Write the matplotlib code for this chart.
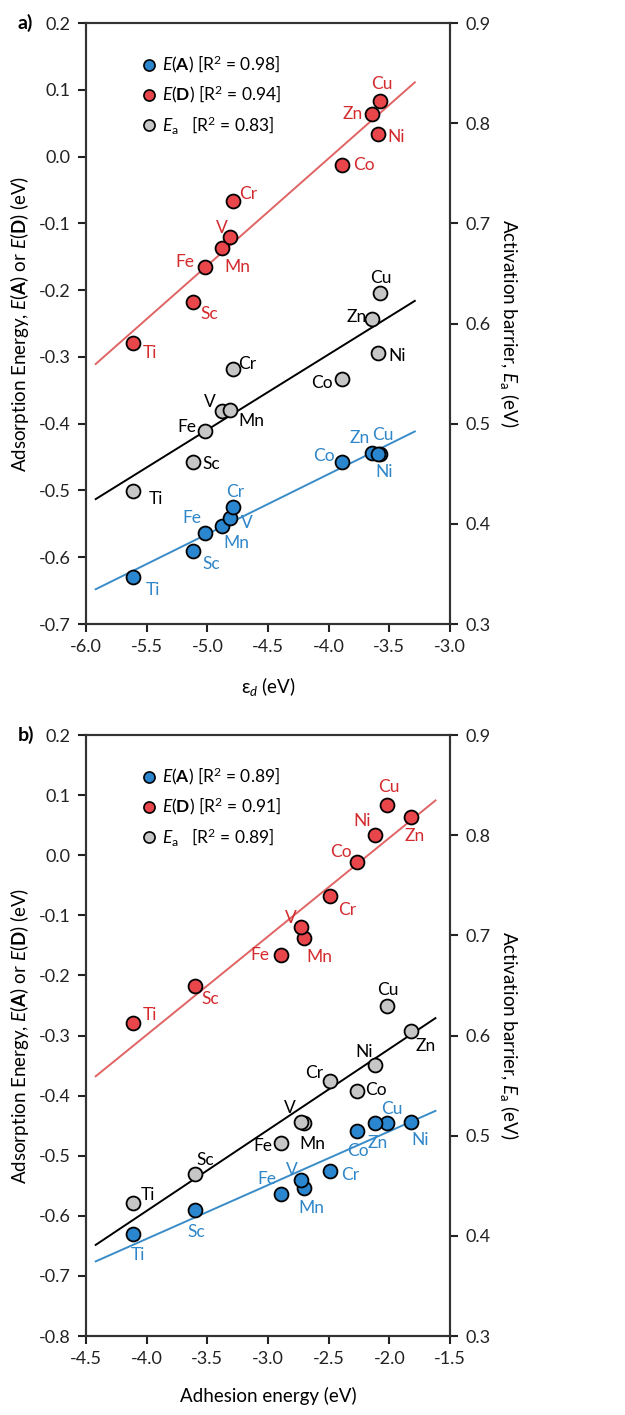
import numpy as np
import matplotlib
matplotlib.use("Agg")
import matplotlib.pyplot as plt
from matplotlib.lines import Line2D

plt.rcParams['font.family'] = ['Lato', 'DejaVu Sans']
plt.rcParams['mathtext.fontset'] = 'custom'
plt.rcParams['mathtext.rm'] = 'Lato'
plt.rcParams['mathtext.it'] = 'Lato:italic'
plt.rcParams['mathtext.bf'] = 'Lato:bold'

# metals (same order in both panels)
metals = ['Ti', 'Sc', 'Fe', 'Mn', 'V', 'Cr', 'Co', 'Zn', 'Cu', 'Ni']
eps_d = [-5.61, -5.12, -5.02, -4.88, -4.81, -4.79, -3.89, -3.64, -3.58, -3.59]
adhesion = [-4.11, -3.60, -2.89, -2.70, -2.73, -2.49, -2.27, -1.82, -2.02, -2.12]
E_A = [-0.630, -0.591, -0.564, -0.553, -0.541, -0.525, -0.458, -0.444, -0.446, -0.445]
E_D = [-0.279, -0.218, -0.166, -0.137, -0.120, -0.067, -0.012, 0.064, 0.084, 0.034]
E_a = [0.433, 0.462, 0.493, 0.513, 0.514, 0.555, 0.545, 0.605, 0.630, 0.571]

r2_a = ['0.98', '0.94', '0.83']
r2_b = ['0.89', '0.91', '0.89']

# label text for blue points in panel b (as printed in the figure)
blue_labels_b = ['Ti', 'Sc', 'Fe', 'Mn', 'V', 'Cr', 'Co', 'Ni', 'Cu', 'Zn']

RED_F, RED_T, RED_L = '#e8464b', '#d42a2e', '#e06464'
BLU_F, BLU_T, BLU_L = '#2a86cf', '#2f86c8', '#3a8cc8'
GRY_F = '#c6c6c6'

# label offsets in pixels (dx, dy, ha)
off_a = {
    'red': {'Ti': (9, -10, 'left'), 'Sc': (8, -12, 'left'), 'Fe': (-11, 5, 'right'),
            'Mn': (2, -19, 'left'), 'V': (-3, 9, 'right'), 'Cr': (6, 7, 'left'),
            'Co': (11, 0, 'left'), 'Zn': (-10, 0, 'right'), 'Cu': (2, 17, 'center'),
            'Ni': (9, -3, 'left')},
    'grey': {'Ti': (15, -8, 'left'), 'Sc': (10, -2, 'left'), 'Fe': (-9, 4, 'right'),
             'Mn': (16, -10, 'left'), 'V': (-21, 8, 'center'), 'Cr': (5, 5, 'left'),
             'Co': (-9, -4, 'right'), 'Zn': (-6, 2, 'right'), 'Cu': (1, 15, 'center'),
             'Ni': (10, -3, 'left')},
    'blue': {'Ti': (12, -13, 'left'), 'Sc': (10, -13, 'left'), 'Fe': (-4, 15, 'right'),
             'Mn': (14, -17, 'center'), 'V': (11, -5, 'left'), 'Cr': (2, 15, 'center'),
             'Co': (-7, 6, 'right'), 'Zn': (-3, 15, 'right'), 'Cu': (3, 19, 'center'),
             'Ni': (6, -18, 'center')},
}
off_b = {
    'red': {'Ti': (9, 8, 'left'), 'Sc': (6, -13, 'left'), 'Fe': (-12, 0, 'right'),
            'Mn': (2, -19, 'left'), 'V': (-4, 9, 'right'), 'Cr': (8, -14, 'left'),
            'Co': (-5, 10, 'right'), 'Zn': (4, -19, 'center'), 'Cu': (2, 18, 'center'),
            'Ni': (-4, 14, 'right')},
    'grey': {'Ti': (7, 8, 'left'), 'Sc': (1, 14, 'left'), 'Fe': (-9, -3, 'right'),
             'Mn': (-5, -21, 'left'), 'V': (-5, 14, 'right'), 'Cr': (-7, 8, 'right'),
             'Co': (9, 1, 'left'), 'Zn': (4, -15, 'left'), 'Cu': (1, 16, 'center'),
             'Ni': (-2, 13, 'right')},
    'blue': {'Ti': (5, -21, 'center'), 'Sc': (1, -22, 'center'), 'Fe': (-5, 15, 'right'),
             'Mn': (7, -20, 'center'), 'V': (-3, 10, 'right'), 'Cr': (11, -4, 'left'),
             'Co': (1, -20, 'center'), 'Zn': (9, -18, 'center'), 'Cu': (5, 14, 'center'),
             'Ni': (3, -20, 'center')},
}


def label_points(ax, xs, ys, names, offs, color, keys=None):
    keys = keys or names
    for x, y, n, k in zip(xs, ys, names, keys):
        dx, dy, ha = offs[k]
        ax.annotate(n, (x, y), xytext=(dx, dy), textcoords='offset pixels',
                    ha=ha, va='center', fontsize=12.5, color=color, zorder=6)


def fit_line(ax, xs, ys, xr, color):
    p = np.polyfit(xs, ys, 1)
    xx = np.array(xr)
    ax.plot(xx, np.polyval(p, xx), color=color, lw=1.4, zorder=2)


def panel(ax, x, xlim, xticks, xr, ylim, yticks, offs, r2, xlabel, tag, blue_names):
    ax2 = ax.twinx()
    fit_line(ax, x, E_D, xr, RED_L)
    fit_line(ax, x, E_A, xr, BLU_L)
    fit_line(ax2, x, E_a, xr, 'black')
    mk = dict(s=100, edgecolors='black', linewidths=1.3, zorder=5)
    ax.scatter(x, E_D, c=RED_F, **mk)
    ax.scatter(x, E_A, c=BLU_F, **mk)
    ax2.scatter(x, E_a, c=GRY_F, **mk)
    label_points(ax, x, E_D, metals, offs['red'], RED_T)
    label_points(ax, x, E_A, blue_names, offs['blue'], BLU_T, keys=metals)
    label_points(ax2, x, E_a, metals, offs['grey'], 'black')

    ax.set_xlim(xlim)
    ax.set_ylim(ylim)
    ax2.set_ylim(0.3, 0.9)
    ax.set_xticks(xticks)
    ax.set_xticklabels([f'{t:.1f}' for t in xticks])
    ax.set_yticks(yticks)
    ax.set_yticklabels([f'{t:.1f}' for t in yticks])
    ax2.set_yticks([0.3, 0.4, 0.5, 0.6, 0.7, 0.8, 0.9])
    ax2.set_yticklabels(['0.3', '0.4', '0.5', '0.6', '0.7', '0.8', '0.9'])
    for a in (ax, ax2):
        for s in a.spines.values():
            s.set_color('#333333')
            s.set_linewidth(1.5)
        a.tick_params(direction='out', length=6, width=1.5, labelsize=13,
                      colors='#222222', pad=5)
    ax.set_xlabel(xlabel, fontsize=13.5, labelpad=14)
    ax.set_ylabel(r'Adsorption Energy, $E$($\mathbf{A}$) or $E$($\mathbf{D}$) (eV)',
                  fontsize=13.5, labelpad=6)
    ax2.set_ylabel(r'Activation barrier, $E_\mathrm{a}$ (eV)', fontsize=13.5,
                   rotation=270, labelpad=22)
    ax.text(-0.187, 1.0, tag, transform=ax.transAxes, fontsize=14,
            fontweight='bold', ha='left', va='center')

    handles = [
        Line2D([], [], ls='', marker='o', ms=8, mfc=BLU_F, mec='black', mew=1.2),
        Line2D([], [], ls='', marker='o', ms=8, mfc=RED_F, mec='black', mew=1.2),
        Line2D([], [], ls='', marker='o', ms=8, mfc=GRY_F, mec='black', mew=1.2),
    ]
    labels = [
        r'$E$($\mathbf{A}$) [R$^2$ = ' + r2[0] + ']',
        r'$E$($\mathbf{D}$) [R$^2$ = ' + r2[1] + ']',
        r'$E_\mathrm{a}$   [R$^2$ = ' + r2[2] + ']',
    ]
    ax.legend(handles, labels, loc='upper left', bbox_to_anchor=(0.105, 0.975),
              frameon=False, fontsize=12.5, handletextpad=0.3, labelspacing=0.5,
              handlelength=1.0)


fig = plt.figure(figsize=(6.25, 14.15), dpi=100)
ax_a = fig.add_axes([0.1376, 0.559, 0.5824, 0.4247])
ax_b = fig.add_axes([0.1376, 0.0558, 0.5824, 0.4247])

panel(ax_a, eps_d, (-6.0, -3.0), [-6.0, -5.5, -5.0, -4.5, -4.0, -3.5, -3.0],
      [-5.92, -3.29], (-0.7, 0.2), [-0.7, -0.6, -0.5, -0.4, -0.3, -0.2, -0.1, 0.0, 0.1, 0.2],
      off_a, r2_a, 'ε$_d$ (eV)', 'a)', metals)
panel(ax_b, adhesion, (-4.5, -1.5), [-4.5, -4.0, -3.5, -3.0, -2.5, -2.0, -1.5],
      [-4.42, -1.62], (-0.8, 0.2),
      [-0.8, -0.7, -0.6, -0.5, -0.4, -0.3, -0.2, -0.1, 0.0, 0.1, 0.2],
      off_b, r2_b, 'Adhesion energy (eV)', 'b)', blue_labels_b)

fig.savefig('out.png', dpi=100)
